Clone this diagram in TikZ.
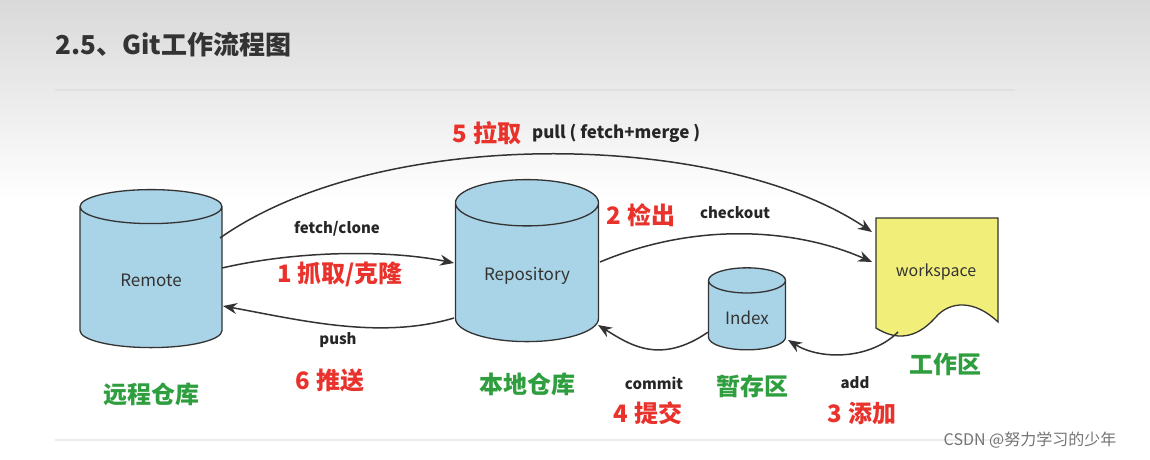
\documentclass[tikz,border=0pt]{standalone}
\usepackage{fontspec}
\setmainfont{Noto Sans CJK SC}
\usetikzlibrary{shapes.geometric,arrows.meta,positioning}
\definecolor{drum}{HTML}{A9D3E6}
\definecolor{wsyellow}{HTML}{F2EE7A}
\definecolor{stepred}{HTML}{E8322B}
\definecolor{areagreen}{HTML}{2E9E3E}
\tikzset{
  repo/.style={cylinder, shape border rotate=90, draw=black!80, line width=1.3pt,
    fill=drum, aspect=0.5, font=\fontsize{17}{19}\selectfont, text=black!80},
  stepname/.style={text=stepred, font=\fontsize{24}{28}\bfseries\selectfont},
  area/.style={text=areagreen, font=\fontsize{24}{28}\bfseries\selectfont},
  cmd/.style={text=black!85, font=\fontsize{15}{18}\bfseries\selectfont},
  flow/.style={-{Stealth[length=14pt,width=11pt]}, line width=1.5pt, black!80}
}
\begin{document}
\begin{tikzpicture}[x=1pt,y=-1pt]
  \useasboundingbox (0,0) rectangle (1150,460);
  \shade[top color=black!15, bottom color=white] (0,0) rectangle (1150,200);
  \node[anchor=west, text=black!80, font=\fontsize{26}{30}\bfseries\selectfont] (title) at (52,45) {2.5、Git工作流程图};
  \draw[black!12, line width=1.5pt] (55,90) -- (1015,90);
  \draw[black!8, line width=1.5pt] (55,440) -- (1015,440);

  % stores
  \node[repo, minimum width=142pt, minimum height=158pt] (remote) at (151,280) {Remote};
  \node[repo, minimum width=143pt, minimum height=162pt] (local) at (527,276) {Repository};
  \node[repo, minimum width=77pt, minimum height=82pt] (index) at (747,318) {Index};

  % workspace
  \draw[black!80, line width=1.3pt, fill=wsyellow]
    (876,218) -- (998,218) -- (998,322)
    .. controls (975,300) and (950,300) .. (935,318)
    .. controls (915,340) and (895,340) .. (876,328) -- cycle;
  \node[font=\fontsize{16}{18}\selectfont, text=black!80] (ws) at (936,272) {workspace};
  \coordinate (wsin) at (872,232);
  \coordinate (wsmid) at (872,262);
  \coordinate (wsout) at (898,332);

  % area names
  \node[area] (remotename) at (151,394) {远程仓库};
  \node[area] (localname) at (527,384) {本地仓库};
  \node[area] (indexname) at (752,386) {暂存区};
  \node[area] (wsname) at (945,364) {工作区};

  % connectors
  \draw[flow] (220,238) .. controls (380,125) and (720,130) .. (wsin);
  \draw[flow] (222,268) .. controls (300,250) and (390,250) .. (454,263);
  \draw[flow] (454,318) .. controls (380,340) and (300,320) .. (223,306);
  \draw[flow] (600,262) .. controls (700,220) and (800,230) .. (wsmid);
  \draw[flow] (index.200) .. controls (660,365) and (630,345) .. (598,325);
  \draw[flow] (wsout) .. controls (870,360) and (820,360) .. (788,340);

  % step labels
  \node[stepname] (pull) at (487,133) {5 拉取};
  \node[cmd, font=\fontsize{17}{20}\bfseries\selectfont, right=4pt of pull] (pullcmd) {pull ( fetch+merge )};
  \node[cmd] (fetch) at (337,229) {fetch/clone};
  \node[stepname] (clone) at (340,274) {1 抓取/克隆};
  \node[cmd] (push) at (338,340) {push};
  \node[stepname] (pushname) at (330,380) {6 推送};
  \node[stepname] (checkout) at (641,215) {2 检出};
  \node[cmd] (checkoutcmd) at (735,213) {checkout};
  \node[cmd] (commit) at (654,383) {commit};
  \node[stepname] (commitname) at (648,413) {4 提交};
  \node[cmd] (add) at (855,383) {add};
  \node[stepname] (addname) at (862,413) {3 添加};
  \node[text=black!55, font=\fontsize{16}{18}\selectfont] (mark) at (1030,440) {CSDN @努力学习的少年};
\end{tikzpicture}
\end{document}
